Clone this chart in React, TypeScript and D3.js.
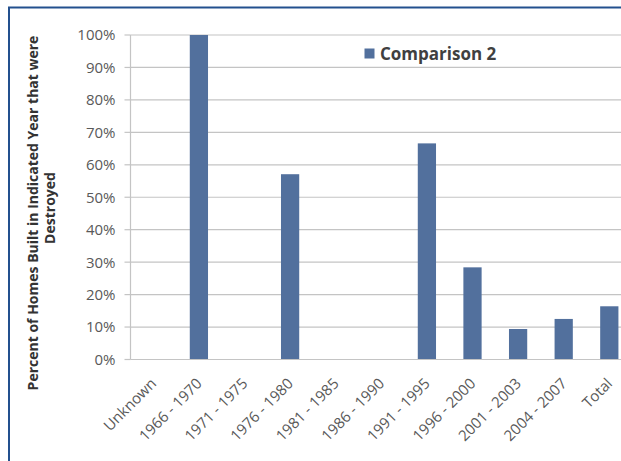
import React from "react";
import * as d3 from "d3";

// Construction periods and the share of homes from each that were destroyed (%)
const categories = [
  "Unknown",
  "1966 - 1970",
  "1971 - 1975",
  "1976 - 1980",
  "1981 - 1985",
  "1986 - 1990",
  "1991 - 1995",
  "1996 - 2000",
  "2001 - 2003",
  "2004 - 2007",
  "Total",
];
const values = [0, 100, 0, 57.1, 0, 0, 66.6, 28.4, 9.4, 12.5, 16.4];
const yTicks = [0, 10, 20, 30, 40, 50, 60, 70, 80, 90, 100];
const seriesName = "Comparison 2";
const yTitleLines = ["Percent of Homes Built in Indicated Year that were", "Destroyed"];

const W = 621;
const H = 461;
const plotLeft = 130.5;
const plotRight = plotLeft + 11 * 45.6;
const plotTop = 35;
const plotBottom = 359.5;

const BAR = "#52709d";
const LABEL = "#595959";
const GRID = "#c4c4c4";
const FONT = "'Open Sans', 'Liberation Sans', sans-serif";

export default function App() {
  const x = d3
    .scaleBand<string>()
    .domain(categories)
    .range([plotLeft, plotRight])
    .paddingInner(0.6)
    .paddingOuter(0.3);
  const y = d3.scaleLinear().domain([0, 100]).range([plotBottom, plotTop]);
  const fmt = (v: number) => `${v}%`;

  return (
    <svg
      width={W}
      height={H}
      viewBox={`0 0 ${W} ${H}`}
      style={{ position: "absolute", left: 0, top: 0, background: "#fff" }}
      fontFamily={FONT}
    >
      {/* frame */}
      <rect x={9} y={7.5} width={W + 20} height={H + 20} fill="none" stroke="#23508e" strokeWidth={2} />

      {/* gridlines and y ticks */}
      {yTicks.map((t) => (
        <g key={t}>
          {t > 0 && (
            <line x1={plotLeft} x2={W} y1={y(t)} y2={y(t)} stroke={GRID} strokeWidth={1.2} />
          )}
          <line x1={plotLeft - 6} x2={plotLeft} y1={y(t)} y2={y(t)} stroke={GRID} strokeWidth={1.2} />
          <text
            x={plotLeft - 15}
            y={y(t)}
            dy="0.36em"
            textAnchor="end"
            fontSize={15}
            fill={LABEL}
          >
            {fmt(t)}
          </text>
        </g>
      ))}

      {/* bars */}
      {categories.map((c, i) =>
        values[i] > 0 ? (
          <rect
            key={c}
            x={x(c)!}
            y={y(values[i])}
            width={x.bandwidth()}
            height={y(0) - y(values[i])}
            fill={BAR}
          />
        ) : null
      )}

      {/* axes */}
      <line x1={plotLeft} x2={plotLeft} y1={plotTop} y2={plotBottom} stroke={GRID} strokeWidth={1.2} />
      <line x1={plotLeft} x2={W} y1={plotBottom} y2={plotBottom} stroke={GRID} strokeWidth={1.2} />

      {/* category labels */}
      {categories.map((c) => {
        const cx = x(c)! + x.bandwidth() / 2;
        return (
          <text
            key={c}
            transform={`translate(${cx + 4},${plotBottom + 25}) rotate(-45)`}
            textAnchor="end"
            fontSize={15}
            fill={LABEL}
          >
            {c}
          </text>
        );
      })}

      {/* y axis title */}
      {yTitleLines.map((line, i) => (
        <text
          key={line}
          transform={`translate(${38 + i * 17},${i === 0 ? 213 : 208}) rotate(-90)`}
          textAnchor="middle"
          fontSize={14}
          fontWeight="bold"
          fill="#333"
        >
          {line}
        </text>
      ))}

      {/* legend */}
      <rect x={364.5} y={48.5} width={10} height={10} fill={BAR} />
      <text x={380} y={53.5} dy="0.36em" fontSize={17} fontWeight="bold" fill="#404040">
        {seriesName}
      </text>
    </svg>
  );
}
